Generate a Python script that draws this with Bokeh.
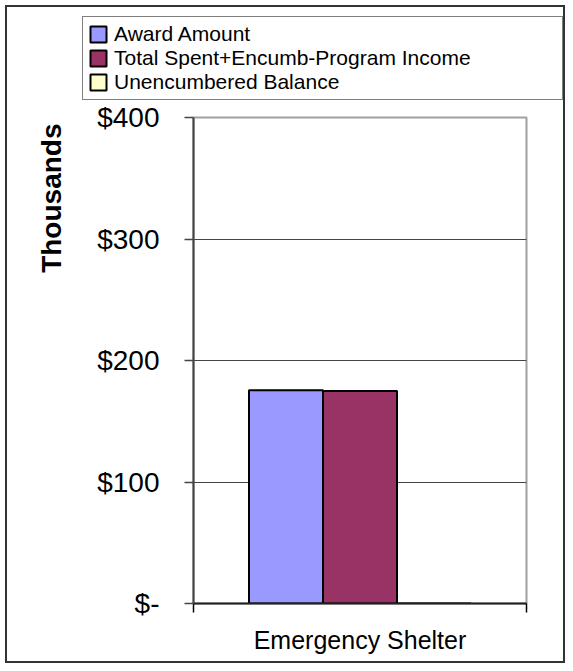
import numpy as np
from bokeh.plotting import figure
from bokeh.layouts import column
from bokeh.models import ColumnDataSource, Range1d, FixedTicker, Legend, LegendItem, Title
from bokeh.transform import dodge
from bokeh.embed import file_html
from bokeh.resources import INLINE

# ---- data ----
categories = ["Emergency Shelter"]
series_names = ["Award Amount", "Total Spent+Encumb-Program Income", "Unencumbered Balance"]
award_amount = [175.5]
total_spent = [175.0]
unencumbered_balance = [0.0]
series_colors = ["#9999FF", "#993366", "#FFFFCC"]
y_ticks = [0, 100, 200, 300, 400]
y_tick_labels = ["$-", "$100", "$200", "$300", "$400"]
y_axis_title = "Thousands"

FONT = "Liberation Sans"

centers = [i + 0.5 for i in range(len(categories))]
boundaries = [float(i) for i in range(len(categories) + 1)]
source = ColumnDataSource(dict(x=centers, award=award_amount, spent=total_spent,
                               unenc=unencumbered_balance))
cols = ["award", "spent", "unenc"]
bw = 1 / 4.5
offsets = [-bw, 0.0, bw]

# ---- main chart ----
p = figure(width=565, height=562, output_backend="svg", toolbar_location=None,
           x_range=Range1d(0, len(categories)), y_range=Range1d(0, 400),
           min_border_left=193, min_border_right=39, min_border_top=16, min_border_bottom=60)
p.frame_align = False
p.background_fill_color = "white"
p.border_fill_alpha = 0.0
p.outline_line_color = "#a0a0a0"
p.outline_line_width = 2

for col, off, color in zip(cols, offsets, series_colors):
    p.vbar(x=dodge("x", off, range=p.x_range), top=col, width=bw, source=source,
           fill_color=color, line_color="black", line_width=2)

p.yaxis.ticker = FixedTicker(ticks=y_ticks)
p.yaxis.major_label_overrides = {t: l for t, l in zip(y_ticks, y_tick_labels)}
p.yaxis.major_label_text_font = FONT
p.yaxis.major_label_text_font_size = "28px"
p.yaxis.major_label_text_color = "black"
p.yaxis.major_label_standoff = 25
p.yaxis.major_tick_out = 9
p.yaxis.major_tick_in = 0
p.yaxis.minor_tick_out = 0
p.yaxis.major_tick_line_color = "#444444"
p.yaxis.major_tick_line_width = 1.5
p.yaxis.axis_line_color = "#444444"
p.yaxis.axis_line_width = 2

p.xaxis.ticker = FixedTicker(ticks=centers, minor_ticks=boundaries)
p.xaxis.major_label_overrides = {c: n for c, n in zip(centers, categories)}
p.xaxis.major_label_text_font = FONT
p.xaxis.major_label_text_font_size = "25px"
p.xaxis.major_label_text_color = "black"
p.xaxis.major_label_standoff = 13
p.xaxis.major_tick_out = 0
p.xaxis.major_tick_in = 0
p.xaxis.minor_tick_out = 9
p.xaxis.minor_tick_in = 0
p.xaxis.minor_tick_line_color = "black"
p.xaxis.minor_tick_line_width = 1.5
p.xaxis.axis_line_color = "#222222"
p.xaxis.axis_line_width = 2

p.xgrid.visible = False
p.ygrid.ticker = FixedTicker(ticks=y_ticks)
p.ygrid.grid_line_color = "#444444"
p.ygrid.grid_line_width = 1

t = Title(text=y_axis_title, align="right", offset=6, standoff=56,
          text_font=FONT, text_font_size="28px", text_font_style="bold", text_color="black")
p.add_layout(t, "left")

# ---- legend strip above the chart ----
lf = figure(width=565, height=101, output_backend="svg", toolbar_location=None,
            x_range=Range1d(0, len(categories)), y_range=Range1d(0, 400),
            x_axis_type=None, y_axis_type=None, min_border=0)
lf.frame_align = False
lf.outline_line_color = None
lf.grid.visible = False
lf.background_fill_alpha = 0.0
lf.border_fill_alpha = 0.0
legend_renderers = []
for col, off, color in zip(cols, offsets, series_colors):
    r = lf.vbar(x=dodge("x", off, range=lf.x_range), top=col, width=bw, source=source,
                fill_color=color, line_color="black", line_width=2, visible=False)
    legend_renderers.append(r)

legend = Legend(items=[LegendItem(label=n, renderers=[r]) for n, r in zip(series_names, legend_renderers)],
                location=(82, 1), orientation="vertical", click_policy="none",
                glyph_width=20, glyph_height=20, label_standoff=6, label_width=443,
                label_height=20, spacing=0, padding=5, margin=0,
                label_text_font=FONT, label_text_font_size="21px", label_text_color="black",
                border_line_color="black", border_line_width=1, background_fill_color="white",
                background_fill_alpha=1.0, inactive_fill_alpha=0.0)
lf.add_layout(legend, "center")

layout = column(lf, p, spacing=0)
layout.styles = {"box-shadow": "inset 5px 5px 0 0 white, inset 7px 7px 0 0 #333333, "
                               "inset -2px -2px 0 0 #333333",
                 "background-color": "white"}

open("out.html", "w").write(file_html(layout, INLINE))
